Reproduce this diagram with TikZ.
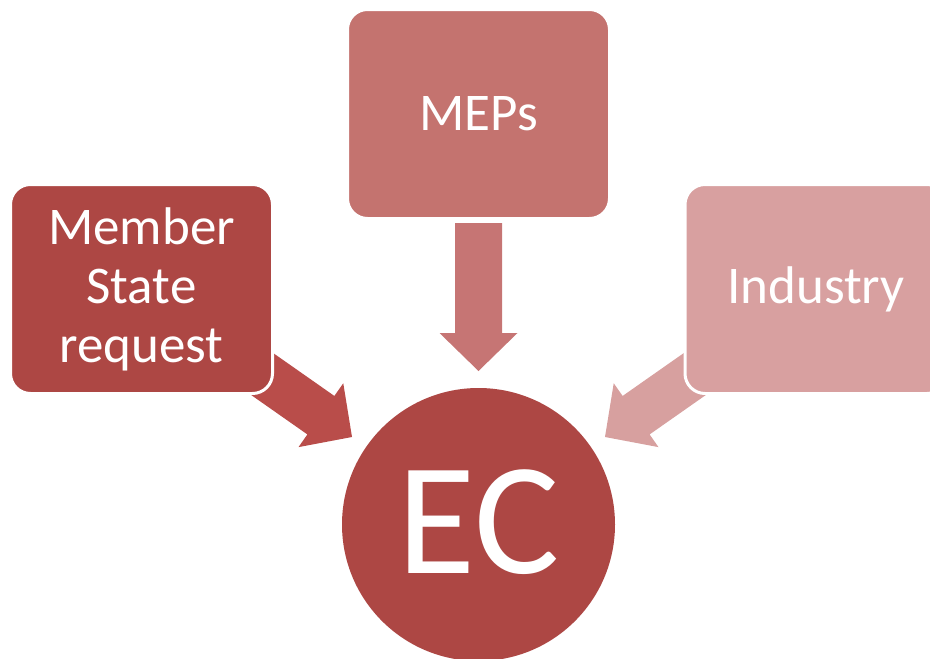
\documentclass[tikz,border=0pt]{standalone}
\usepackage{fontspec}
\setmainfont{Carlito}
\usetikzlibrary{calc}
\definecolor{cMS}{HTML}{AD4744}
\definecolor{cMSarr}{HTML}{B94D4A}
\definecolor{cMEP}{HTML}{C4736F}
\definecolor{cMEParr}{HTML}{C67574}
\definecolor{cInd}{HTML}{D8A0A0}
\definecolor{cIndarr}{HTML}{D7A09F}
\newcommand\blockarr[3]{%
  \coordinate (#1b) at ($(#2)!38pt!(#1)$);
  \fill[#3] ($(#1)!23.5pt!90:(#2)$) -- ($(#1b)!23.5pt!90:(#2)$) -- ($(#1b)!39pt!90:(#2)$)
    -- (#2) -- ($(#1b)!39pt!-90:(#2)$) -- ($(#1b)!23.5pt!-90:(#2)$) -- ($(#1)!23.5pt!-90:(#2)$) -- cycle;
}
\tikzset{
  srcbox/.style={rectangle, rounded corners=20pt, draw=white, line width=3pt,
    minimum width=262pt, minimum height=209pt, inner sep=0pt, text=white,
    align=center, font=\fontsize{53}{59}\selectfont},
  ecnode/.style={circle, minimum size=273pt, inner sep=0pt, fill=cMS, text=white,
    font=\fontsize{160}{160}\selectfont}
}
\begin{document}
\begin{tikzpicture}[x=1pt,y=-1pt]
\useasboundingbox (0,0) rectangle (930,659);
\clip (0,0) rectangle (930,659);
% anchors of the arrows
\coordinate (lt) at (255,369);
\coordinate (lh) at (352,437);
\coordinate (mt) at (478.5,223);
\coordinate (mh) at (478.5,371);
\coordinate (rt) at (702,369);
\coordinate (rh) at (605,437);
\blockarr{lt}{lh}{cMSarr}
\blockarr{mt}{mh}{cMEParr}
\blockarr{rt}{rh}{cIndarr}
% boxes
\node[srcbox, fill=cMS] (ms) at (141.5,289) {Member\\State\\request};
\node[srcbox, fill=cMEP] (meps) at (478.5,114) {MEPs};
\node[srcbox, fill=cInd] (ind) at (816,289) {Industry};
\node[ecnode] (ec) at (478.5,524.5) {\raisebox{5pt}{EC}};
\end{tikzpicture}
\end{document}
